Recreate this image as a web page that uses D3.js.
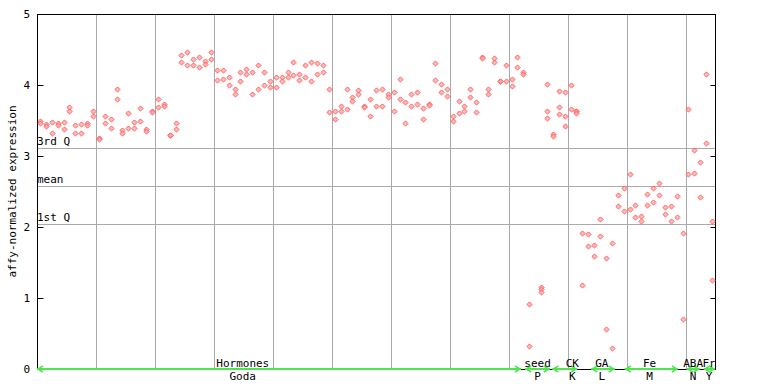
<!DOCTYPE html>
<html><head><meta charset="utf-8">
<script src="https://cdn.jsdelivr.net/npm/d3@7"></script>
<style>
html,body{margin:0;padding:0;background:#fff;}
svg{display:block;}
text{font-family:"DejaVu Sans Mono",monospace;font-size:11px;fill:#000;}
</style></head>
<body><svg id="chart" width="768" height="384"></svg>
<script>
// expression values per sample (replicates), sample index = position in array
const sampleValues = [
 [3.49,3.46],[3.45,3.42],[3.48,3.33],[3.47,3.43],[3.48,3.38],[3.69,3.63],[3.43,3.33],[3.45,3.32],[3.46,3.43],[3.63,3.56],
 [3.26,3.24],[3.57,3.46],[3.52,3.40],[3.95,3.80],[3.36,3.32],[3.60,3.39],[3.48,3.39],[3.67,3.50],[3.38,3.35],[3.64,3.62],
 [3.80,3.69],[3.73,3.70],[3.30,3.29],[3.46,3.38],[4.42,4.32],[4.47,4.28],[4.36,4.28],[4.40,4.25],[4.34,4.30],[4.46,4.36],
 [4.21,4.07],[4.21,4.09],[4.11,4.00],[3.95,3.88],[4.18,4.05],[4.22,4.15],[4.19,3.87],[4.28,3.94],[4.19,4.00],[4.05,3.97],
 [4.11,3.97],[4.11,4.05],[4.19,4.11],[4.33,4.14],[4.16,4.07],[4.28,4.11],[4.32,4.05],[4.31,4.15],[4.28,4.18],[3.94,3.62],
 [3.64,3.52],[3.71,3.64],[3.95,3.66],[3.83,3.78],[3.93,3.87],[3.71,3.69],[3.80,3.56],[3.93,3.70],[3.94,3.70],[3.88,3.83],
 [3.90,3.64],[4.09,3.80],[3.76,3.46],[3.87,3.71],[3.90,3.73],[3.67,3.52],[3.73,3.72],[4.31,4.07],[4.02,3.90],[3.94,3.84],
 [3.57,3.49],[3.77,3.60],[3.70,3.64],[3.95,3.83],[3.76,3.62],[4.40,4.38],[3.95,3.88],[4.38,4.32],[4.06,4.05],[4.28,4.05],
 [4.08,3.98],[4.39,4.25],[4.18,4.15],[0.91,0.32],[],[1.16,1.12,1.09],[4.01,3.64,3.53],[3.31,3.28],[3.91,3.69,3.59],[3.90,3.56,3.42],
 [4.00,3.66],[3.64,3.63,3.60],[1.91,1.19],[1.90,1.73],[1.74,1.59],[2.11,1.88],[1.56,0.57],[1.77,0.29],[2.45,2.29],[2.55,2.22],
 [2.74,2.26],[2.31,2.14],[2.15,2.09],[2.47,2.31],[2.55,2.35],[2.62,2.45],[2.28,2.18],[2.29,2.08],[2.43,2.14],[1.91,0.71],
 [3.66,2.74],[3.08,2.76],[2.91,2.42],[4.15,3.19],[2.09,1.26]
];
const sampleCount = 115;
const yTicks = [0,1,2,3,4,5];
const statNames = ["3rd Q","mean","1st Q"];
const statValues = [3.108,2.582,2.038];
// experiment groups along the x axis (sample-index units)
const groupTop = ["Hormones","seed","CK","GA","Fe","ABA","Fr"];
const groupBottom = ["Goda","P","K","L","M","N","Y"];
const groupStart = [0,82.8,87.4,94.0,99.7,110.2,113.1];
const groupEnd = [82.1,87.0,91.6,98.0,108.7,112.4,115];
const groupLabelAt = [34.9,84.9,90.8,95.8,103.9,111.3,114.0];
const yTitle = "affy-normalized expression";

const svg = d3.select("#chart");
const L=37, R=715, T=14, B=369;
const x = d3.scaleLinear().domain([0,sampleCount]).range([L,R]);
const y = d3.scaleLinear().domain([0,5]).range([B,T]);

// vertical grid every 10 samples
const gridIdx = d3.range(10, sampleCount, 10);
svg.append("g").selectAll("line").data(gridIdx).join("line")
  .attr("x1", d=>Math.round(x(d))+0.5).attr("x2", d=>Math.round(x(d))+0.5)
  .attr("y1", T).attr("y2", B).attr("stroke","#aaaaaa").attr("stroke-width",1);

// stat lines
svg.append("g").selectAll("line").data(statValues).join("line")
  .attr("x1", L).attr("x2", R)
  .attr("y1", d=>Math.round(y(d))+0.5).attr("y2", d=>Math.round(y(d))+0.5)
  .attr("stroke","#aaaaaa").attr("stroke-width",1);
svg.append("g").selectAll("text").data(statValues).join("text")
  .attr("x", L).attr("y", d=>Math.round(y(d))-3)
  .text((d,i)=>statNames[i]);

// frame
const fr = svg.append("g").attr("stroke","#000").attr("stroke-width",1).attr("shape-rendering","crispEdges");
fr.append("line").attr("x1",L+0.5).attr("x2",L+0.5).attr("y1",T).attr("y2",B+1);
fr.append("line").attr("x1",R+0.5).attr("x2",R+0.5).attr("y1",T).attr("y2",B+1);
fr.append("line").attr("x1",L).attr("x2",R+1).attr("y1",T+0.5).attr("y2",T+0.5);
fr.append("line").attr("x1",L).attr("x2",R+1).attr("y1",B+0.5).attr("y2",B+0.5);

// left axis (ticks inward)
const la = svg.append("g").attr("transform",`translate(${L+0.5},0)`)
  .call(d3.axisRight(y).tickValues(yTicks).tickSize(6).tickFormat(""));
la.select(".domain").remove();
la.selectAll("line").attr("stroke","#000");
svg.append("g").selectAll("text").data(yTicks).join("text")
  .attr("x", 30).attr("y", d=>y(d)).attr("dy","0.35em").attr("text-anchor","end")
  .text(d=>d);
// right axis ticks inward
const ra = svg.append("g").attr("transform",`translate(${R+0.5},0)`)
  .call(d3.axisLeft(y).tickValues(yTicks).tickSize(5).tickFormat(""));
ra.select(".domain").remove();
ra.selectAll("line").attr("stroke","#000");

// y title
svg.append("text").attr("transform",`translate(12,${(T+B)/2}) rotate(-90)`)
  .attr("text-anchor","middle").attr("dominant-baseline","central").text(yTitle);

// points
const pts = [];
sampleValues.forEach((vals,i)=>vals.forEach(v=>pts.push({i,v})));
svg.append("g").selectAll("path").data(pts).join("path")
  .attr("transform", d=>`translate(${Math.round(x(d.i+0.5))+0.5},${Math.round(y(d.v))+0.5})`)
  .attr("d","M0,-2.6L2.6,0L0,2.6L-2.6,0Z")
  .attr("fill","#ffaaaa").attr("fill-opacity",0.8)
  .attr("stroke","#ff5555").attr("stroke-width",0.9);

// group ranges with arrows
const gg = svg.append("g");
const green = "#4de64d";
groupStart.forEach((s,k)=>{
  const x1 = x(s), x2 = x(groupEnd[k]);
  gg.append("line").attr("x1",x1).attr("x2",x2).attr("y1",B).attr("y2",B)
    .attr("stroke",green).attr("stroke-width",2);
  gg.append("path").attr("d",`M${x1+6},${B-3}L${x1+1},${B}L${x1+6},${B+3}`)
    .attr("fill","none").attr("stroke",green).attr("stroke-width",1.5);
  gg.append("path").attr("d",`M${x2-6},${B-3}L${x2-1},${B}L${x2-6},${B+3}`)
    .attr("fill","none").attr("stroke",green).attr("stroke-width",1.5);
});
svg.append("g").selectAll("text").data(groupTop).join("text")
  .attr("x",(d,k)=>x(groupLabelAt[k])).attr("y",367).attr("text-anchor","middle").text(d=>d);
svg.append("g").selectAll("text").data(groupBottom).join("text")
  .attr("x",(d,k)=>x(groupLabelAt[k])).attr("y",380).attr("text-anchor","middle").text(d=>d);
</script></body></html>
